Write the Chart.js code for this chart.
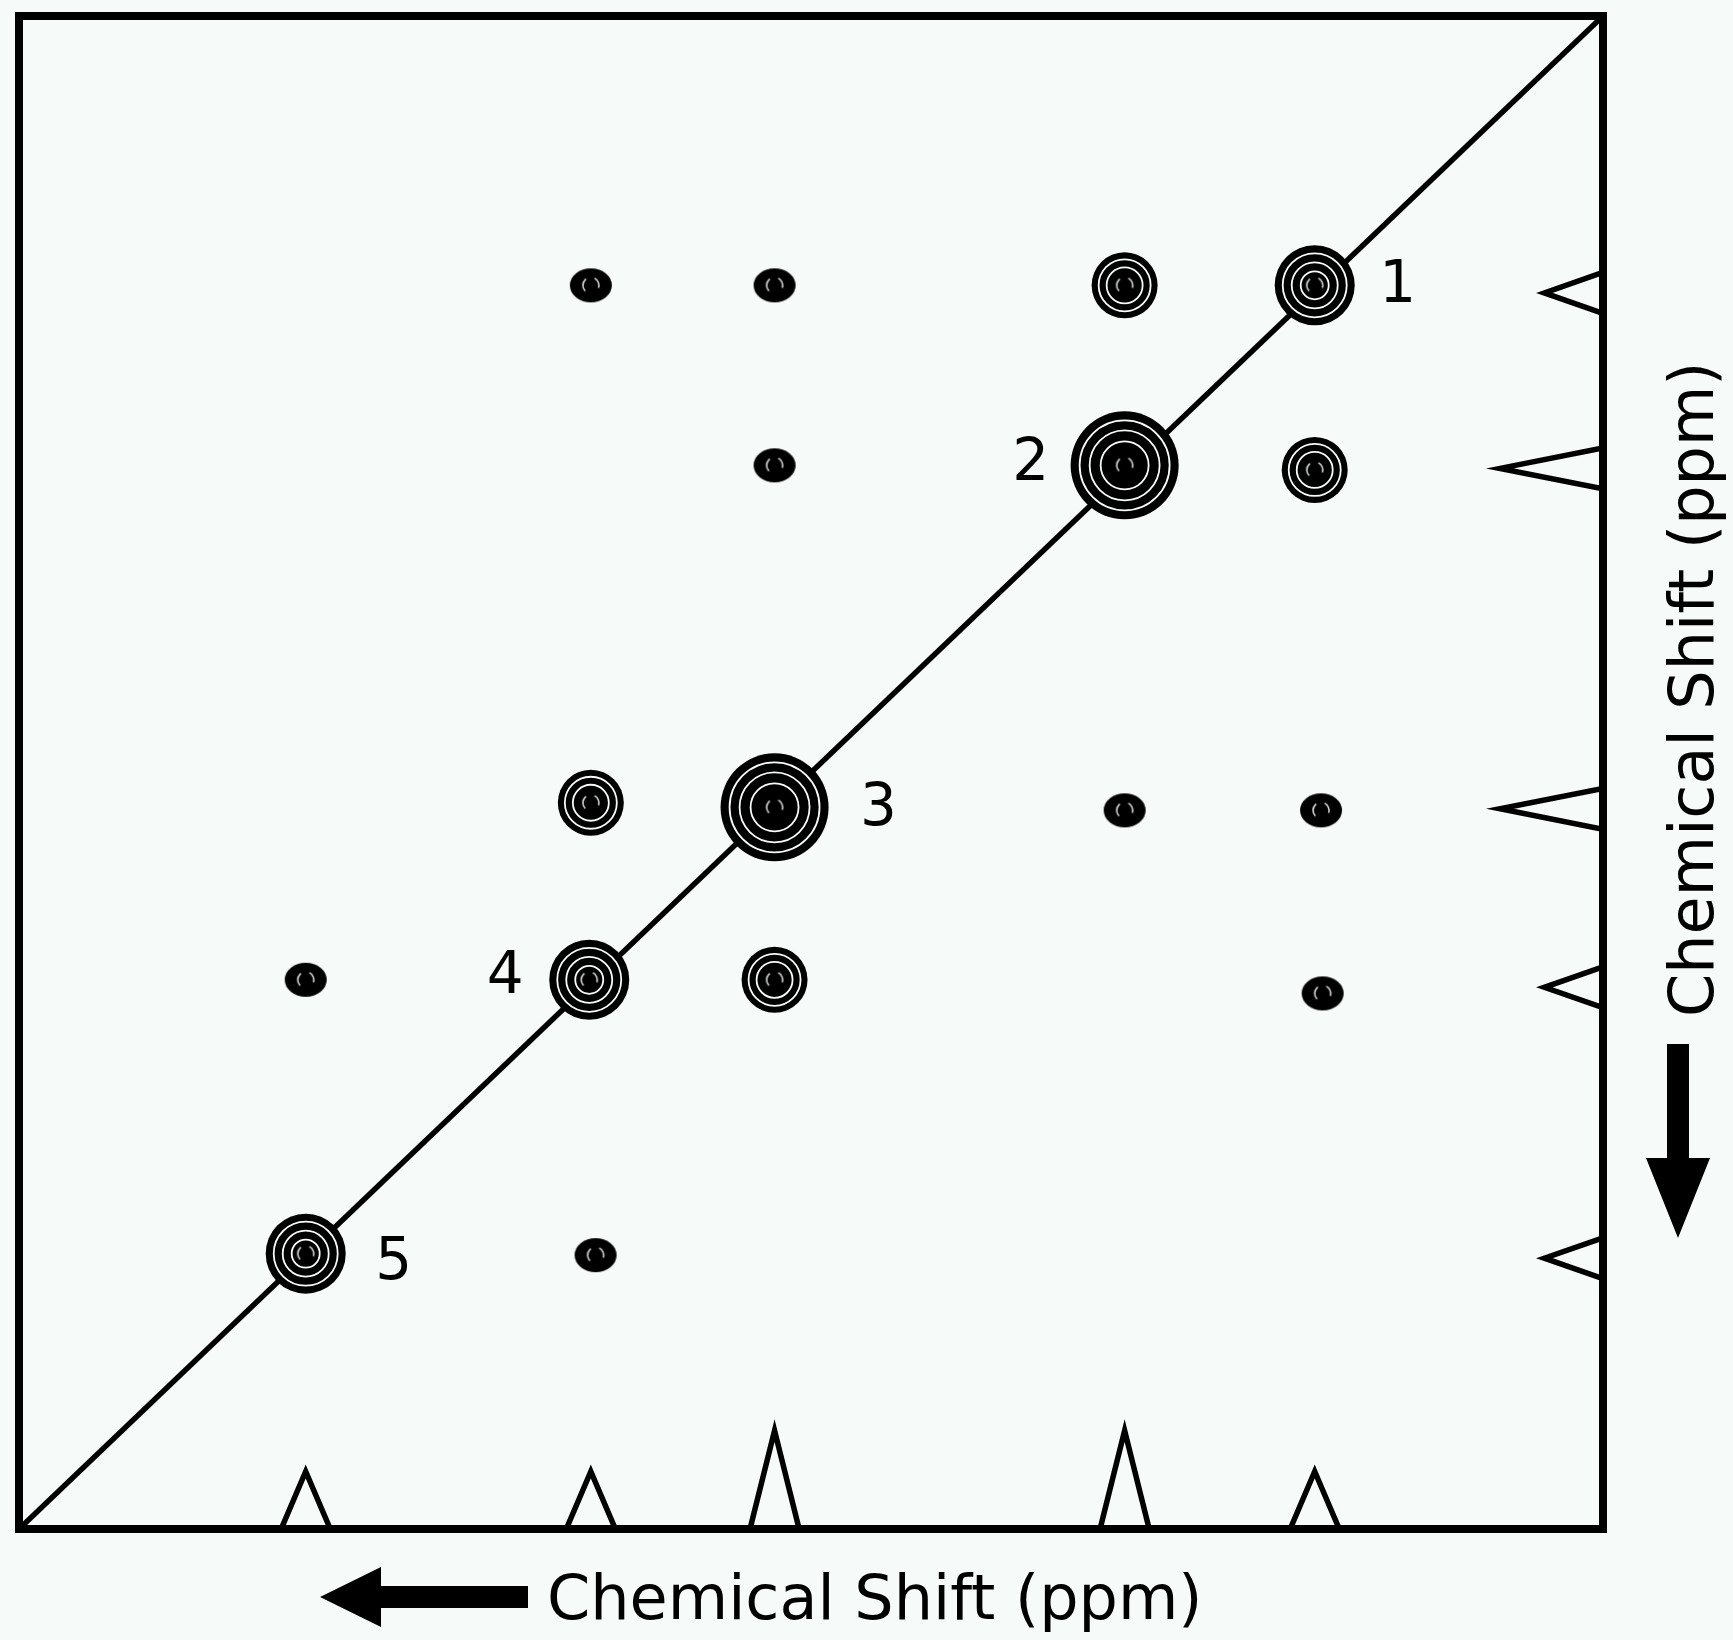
<!DOCTYPE html>
<html>
<head>
<meta charset="utf-8">
<title>2D NMR schematic</title>
<script src="https://cdn.jsdelivr.net/npm/chart.js@4.4.1/dist/chart.umd.min.js"></script>
<style>
  html, body { margin: 0; padding: 0; background: #f6faf8; }
  #wrap { width: 1733px; height: 1640px; }
</style>
</head>
<body>
<div id="wrap"><canvas id="nmrChart" width="1733" height="1640"></canvas></div>
<script>
// diagonal peaks (ppm), numbered 1..5
const peakLabels = ["1", "2", "3", "4", "5"];
const diagX = [1.82, 3.02, 5.23, 6.40, 8.19];
const diagY = [1.78, 2.97, 5.23, 6.37, 8.18];
const diagLevel = [3, 4, 4, 3, 3];

// cross peaks (ppm) and how many contours each one has
const crossX = [6.39, 5.23, 3.02, 5.23, 1.82, 6.39, 3.02, 1.78, 8.19, 5.23, 1.77, 6.36];
const crossY = [1.78, 1.78, 1.78, 2.97, 3.00, 5.20, 5.25, 5.25, 6.37, 6.37, 6.46, 8.19];
const crossLevel = [1, 1, 2, 1, 2, 2, 1, 1, 1, 2, 1, 1];

// 1D projections: bottom (along x) and right side (along y)
const xProjShifts = [8.19, 6.39, 5.23, 3.02, 1.82];
const xProjHeights = [0.38, 0.38, 0.65, 0.65, 0.38];
const yProjShifts = [1.83, 2.99, 5.24, 6.42, 8.21];
const yProjHeights = [0.37, 0.65, 0.65, 0.37, 0.37];

const axisMin = 0;
const axisMax = 10;
const halfWidthX = 0.155;
const halfWidthY = 0.135;

const BG = "#f6faf8";
const INK = "#000000";

const bodyRadius = { 1: 20, 2: 33, 3: 40, 4: 54 };
const ringRadii = { 1: [], 2: [26, 18], 3: [32, 23, 14], 4: [45, 35, 24] };
const labelOffsets = [[83, 2], [-94, 0], [104, 3], [-84, -2], [88, 10]];

const peakX = diagX.concat(crossX);
const peakY = diagY.concat(crossY);
const peakLevel = diagLevel.concat(crossLevel);
const peakPoints = peakX.map((x, i) => ({ x: x, y: peakY[i] }));

function makeSmallDot() {
  const c = document.createElement("canvas");
  c.width = 46;
  c.height = 38;
  const g = c.getContext("2d");
  g.fillStyle = INK;
  g.beginPath();
  g.ellipse(23, 19, 21, 17, 0, 0, Math.PI * 2);
  g.fill();
  return c;
}

function makeHighlight() {
  const c = document.createElement("canvas");
  c.width = 26;
  c.height = 26;
  const g = c.getContext("2d");
  g.strokeStyle = "rgba(246,250,248,0.85)";
  g.lineWidth = 1.6;
  g.beginPath();
  g.arc(13, 13, 8, Math.PI * 0.75, Math.PI * 1.3);
  g.stroke();
  g.beginPath();
  g.arc(13, 13, 8, Math.PI * 1.65, Math.PI * 2.1);
  g.stroke();
  return c;
}

const smallDot = makeSmallDot();
const highlight = makeHighlight();

function bottomTriangles() {
  const pts = [];
  xProjShifts.forEach((s, i) => {
    pts.push({ x: s + halfWidthX, y: axisMax });
    pts.push({ x: s, y: axisMax - xProjHeights[i] });
    pts.push({ x: s - halfWidthX, y: axisMax });
    pts.push({ x: null, y: null });
  });
  return pts;
}

function sideTriangles() {
  const pts = [];
  yProjShifts.forEach((s, i) => {
    pts.push({ x: axisMin, y: s - halfWidthY });
    pts.push({ x: axisMin + yProjHeights[i], y: s });
    pts.push({ x: axisMin, y: s + halfWidthY });
    pts.push({ x: null, y: null });
  });
  return pts;
}

function ringDataset(k, order) {
  return {
    data: peakPoints,
    order: order,
    showLine: false,
    pointStyle: "circle",
    pointRadius: (ctx) => ringRadii[peakLevel[ctx.dataIndex]][k] || 0,
    pointBackgroundColor: "rgba(0,0,0,0)",
    pointBorderColor: BG,
    pointBorderWidth: 1.8,
  };
}

const decorPlugin = {
  id: "decor",
  afterDatasetsDraw(chart) {
    const ctx = chart.ctx;
    const area = chart.chartArea;
    const xs = chart.scales.x;
    const ys = chart.scales.y;

    ctx.save();
    // frame
    ctx.strokeStyle = INK;
    ctx.lineWidth = 8;
    ctx.strokeRect(area.left, area.top, area.right - area.left, area.bottom - area.top);

    // peak numbers
    ctx.fillStyle = INK;
    ctx.font = "58px 'DejaVu Sans'";
    ctx.textAlign = "center";
    ctx.textBaseline = "middle";
    peakLabels.forEach((label, i) => {
      const px = xs.getPixelForValue(diagX[i]) + labelOffsets[i][0];
      const py = ys.getPixelForValue(diagY[i]) + labelOffsets[i][1];
      ctx.fillText(label, px, py);
    });

    // axis titles
    ctx.font = "62px 'DejaVu Sans'";
    ctx.textAlign = "left";
    ctx.textBaseline = "alphabetic";
    ctx.fillText("Chemical Shift (ppm)", 547, 1619);

    ctx.save();
    ctx.translate(1713, 1017);
    ctx.rotate(-Math.PI / 2);
    ctx.fillText("Chemical Shift (ppm)", 0, 0);
    ctx.restore();

    // arrows
    ctx.beginPath();
    ctx.moveTo(320, 1597);
    ctx.lineTo(381, 1567);
    ctx.lineTo(381, 1586);
    ctx.lineTo(528, 1586);
    ctx.lineTo(528, 1608);
    ctx.lineTo(381, 1608);
    ctx.lineTo(381, 1627);
    ctx.closePath();
    ctx.fill();

    ctx.beginPath();
    ctx.moveTo(1678, 1238);
    ctx.lineTo(1646, 1158);
    ctx.lineTo(1667, 1158);
    ctx.lineTo(1667, 1044);
    ctx.lineTo(1689, 1044);
    ctx.lineTo(1689, 1158);
    ctx.lineTo(1710, 1158);
    ctx.closePath();
    ctx.fill();
    ctx.restore();
  },
};

const chartCanvas = document.getElementById("nmrChart");

new Chart(chartCanvas, {
  type: "scatter",
  data: {
    datasets: [
      {
        data: peakPoints,
        order: 0,
        pointStyle: highlight,
        pointRadius: 6,
      },
      ringDataset(2, 1),
      ringDataset(1, 2),
      ringDataset(0, 3),
      {
        data: peakPoints,
        order: 4,
        pointStyle: (ctx) => (peakLevel[ctx.dataIndex] === 1 ? smallDot : "circle"),
        pointRadius: (ctx) => bodyRadius[peakLevel[ctx.dataIndex]],
        pointBackgroundColor: INK,
        pointBorderWidth: 0,
      },
      {
        data: [
          { x: axisMin, y: axisMin },
          { x: axisMax, y: axisMax },
        ],
        order: 5,
        showLine: true,
        borderColor: INK,
        borderWidth: 5.5,
        pointRadius: 0,
      },
      {
        data: bottomTriangles(),
        order: 6,
        showLine: true,
        spanGaps: false,
        borderColor: INK,
        borderWidth: 5.5,
        borderJoinStyle: "miter",
        pointRadius: 0,
      },
      {
        data: sideTriangles(),
        order: 7,
        showLine: true,
        spanGaps: false,
        borderColor: INK,
        borderWidth: 5.5,
        borderJoinStyle: "miter",
        pointRadius: 0,
      },
    ],
  },
  options: {
    responsive: false,
    animation: false,
    devicePixelRatio: 1,
    layout: {
      autoPadding: false,
      padding: { left: 19, top: 16, right: 130, bottom: 111 },
    },
    plugins: {
      legend: { display: false },
      tooltip: { enabled: false },
    },
    scales: {
      x: { type: "linear", min: axisMin, max: axisMax, reverse: true, display: false },
      y: { type: "linear", min: axisMin, max: axisMax, reverse: true, display: false },
    },
  },
  plugins: [decorPlugin],
});
</script>
</body>
</html>
